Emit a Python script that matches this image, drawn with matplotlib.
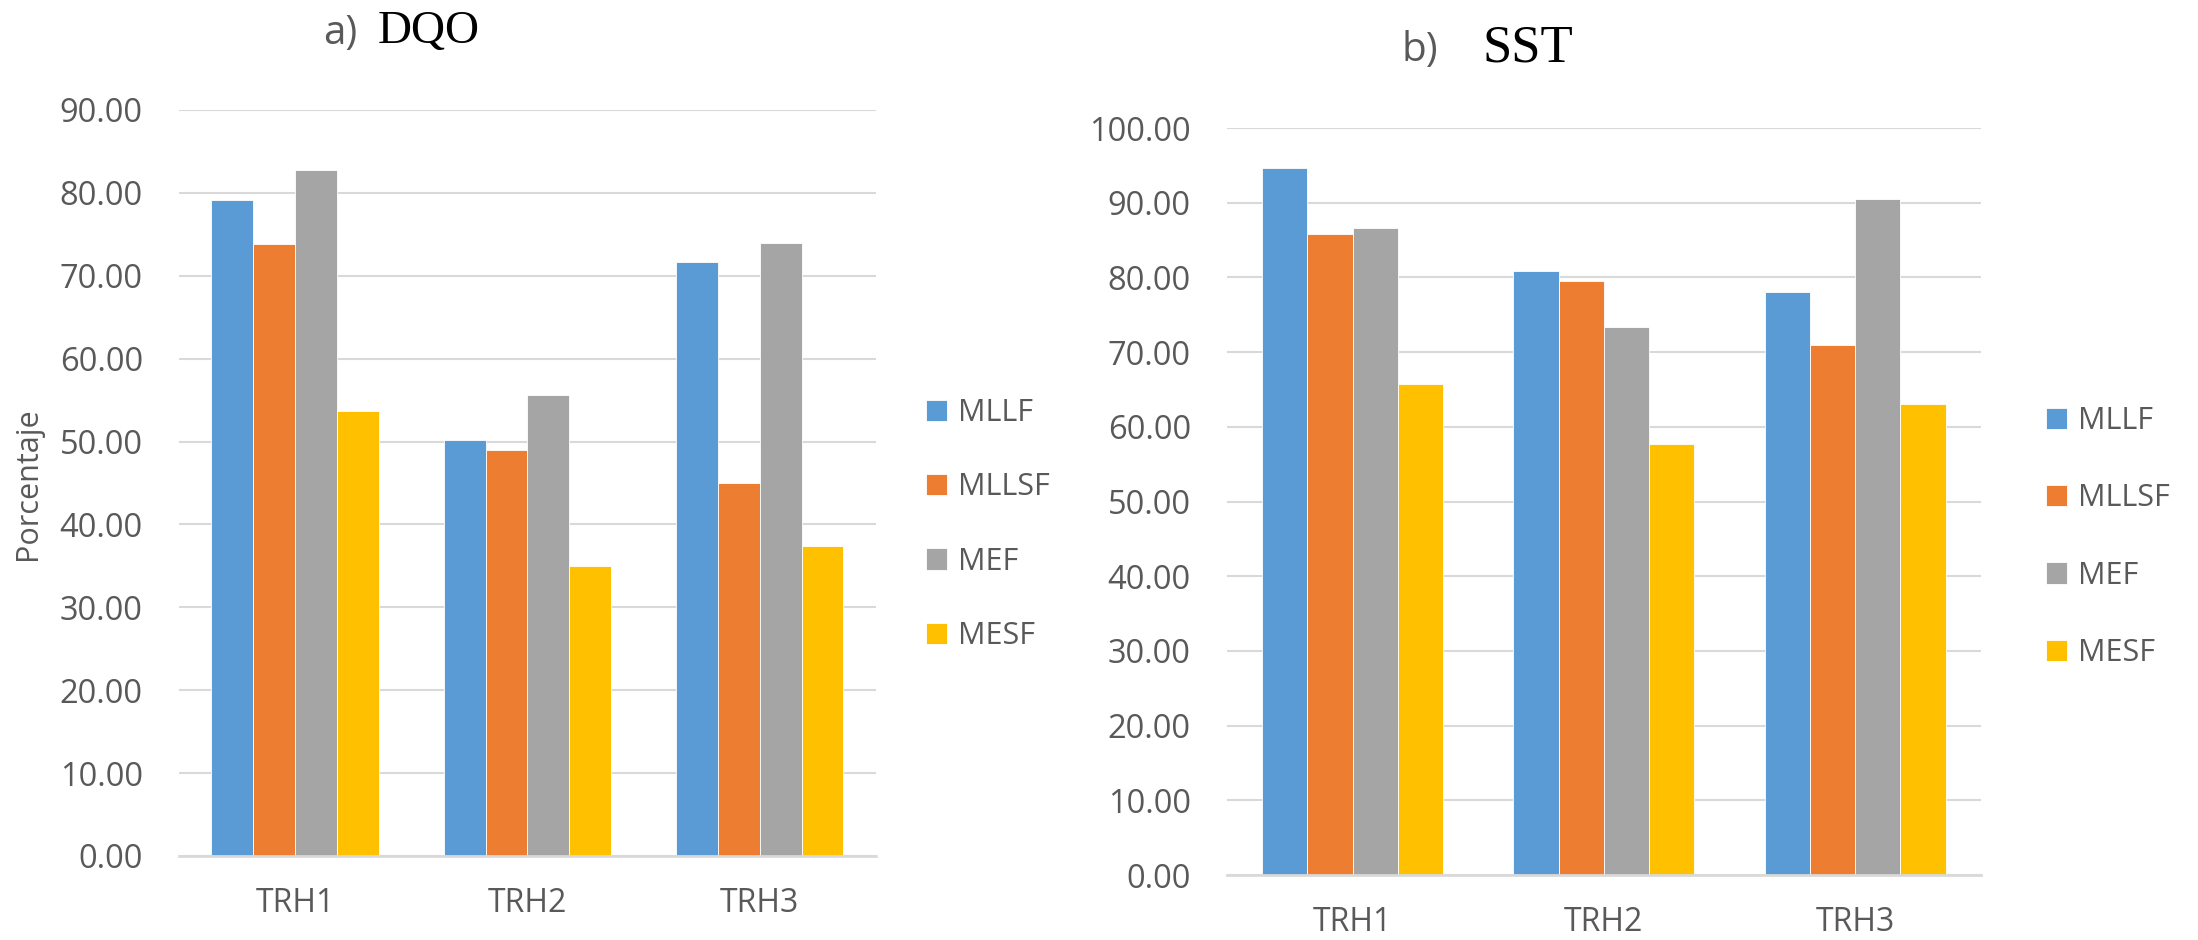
import matplotlib.pyplot as plt
import numpy as np

plt.rcParams['font.family'] = ['Open Sans', 'DejaVu Sans']

categories = ['TRH1', 'TRH2', 'TRH3']
series = ['MLLF', 'MLLSF', 'MEF', 'MESF']
colors = ['#5B9BD5', '#ED7D31', '#A5A5A5', '#FFC000']

# DQO removal (%)
dqo_mllf = [79.1, 50.2, 71.7]
dqo_mllsf = [73.8, 49.0, 45.0]
dqo_mef = [82.8, 55.6, 73.9]
dqo_mesf = [53.7, 35.0, 37.4]

# SST removal (%)
sst_mllf = [94.7, 80.9, 78.0]
sst_mllsf = [85.8, 79.5, 71.0]
sst_mef = [86.6, 73.3, 90.5]
sst_mesf = [65.7, 57.7, 63.1]

txt = '#595959'
grid_c = '#D9D9D9'

fig = plt.figure(figsize=(21.98, 9.4), dpi=100)
axL = fig.add_axes([0.0814, 0.0894, 0.3171, 0.7936])
axR = fig.add_axes([0.5582, 0.0691, 0.3430, 0.7947])

def bars(ax, data, ymax):
    x = np.arange(len(categories))
    w = 0.18
    for i, vals in enumerate(data):
        ax.bar(x + (i - 1.5) * w, vals, w, color=colors[i], edgecolor='white',
               linewidth=0.6, label=series[i], zorder=3)
    ax.set_xlim(-0.5, len(categories) - 0.5)
    ax.set_ylim(0, ymax)
    ticks = np.arange(0, ymax + 1, 10)
    ax.set_yticks(ticks)
    ax.set_yticklabels(['%.2f' % v for v in ticks])
    ax.set_xticks(x)
    ax.set_xticklabels(categories)
    ax.grid(axis='y', color=grid_c, linewidth=1.5, zorder=0)
    for s in ['top', 'right', 'left']:
        ax.spines[s].set_visible(False)
    ax.spines['bottom'].set_color(grid_c)
    ax.spines['bottom'].set_linewidth(2)
    ax.spines['bottom'].set_zorder(4)
    ax.tick_params(axis='y', length=0, pad=26, labelsize=23.5, labelcolor=txt)
    ax.tick_params(axis='x', length=0, pad=22, labelsize=23, labelcolor=txt)

bars(axL, [dqo_mllf, dqo_mllsf, dqo_mef, dqo_mesf], 90)
bars(axR, [sst_mllf, sst_mllsf, sst_mef, sst_mesf], 100)

h, l = axL.get_legend_handles_labels()
for bx, by, ls in [(0.4213, 0.442, 1.45), (0.9309, 0.4287, 1.55)]:
    fig.legend(h, l, loc='center left', bbox_to_anchor=(bx, by), frameon=False,
               borderpad=0, borderaxespad=0, handlelength=0.69, handleheight=0.69,
               handletextpad=0.36, labelspacing=ls, fontsize=22, labelcolor=txt)

fig.text(0.0127, 0.485, 'Porcentaje', rotation=90, ha='center', va='center',
         fontsize=22, color=txt)

fig.text(0.147, 0.9532, 'a)', fontsize=29, color=txt, va='baseline')
fig.text(0.172, 0.9543, 'DQO', fontsize=34, family='Liberation Serif', color='black', va='baseline')
fig.text(0.6374, 0.9351, 'b)', fontsize=29, color=txt, va='baseline')
fig.text(0.6743, 0.9351, 'SST', fontsize=38, family='Liberation Serif', color='black', va='baseline')

fig.savefig('out.png', dpi=100)
